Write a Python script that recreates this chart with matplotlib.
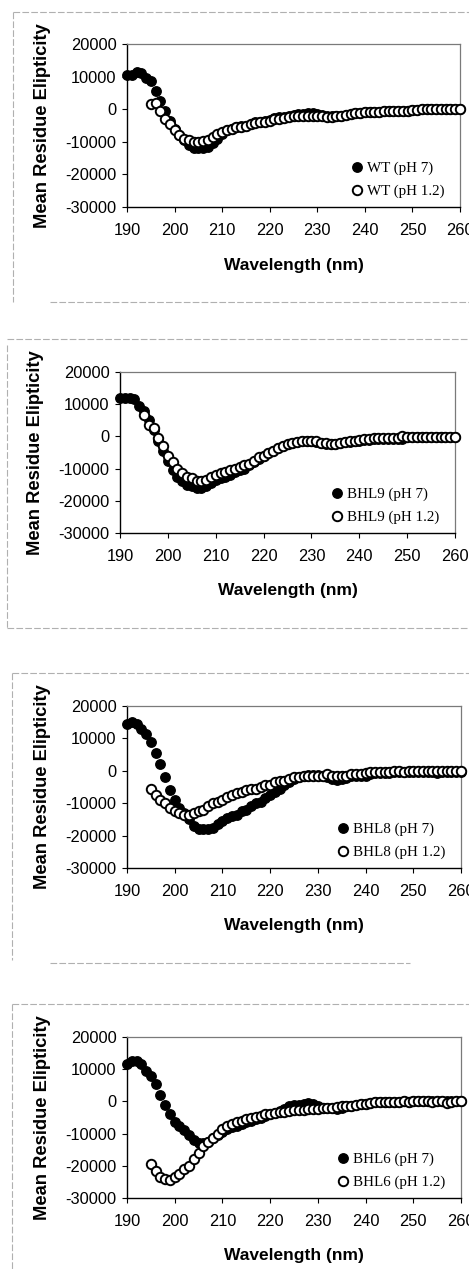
import numpy as np
import matplotlib
matplotlib.use("Agg")
import matplotlib.pyplot as plt
from matplotlib.lines import Line2D

# wavelength grids (nm); the pH 1.2 scans start at 195 nm
wl_ph7 = np.arange(190, 261)
wl_ph12 = np.arange(195, 261)

wt_ph7 = [10500, 10500, 11500, 11000, 9500, 8500, 5500, 2500, -500, -3500,
          -6000, -8000, -9500, -11000, -11800, -12000, -12000, -11500, -10500, -9000,
          -7500, -6500, -6000, -5500, -5200, -5000, -4500, -4000, -3800, -3500,
          -3200, -2800, -2500, -2300, -2000, -1800, -1600, -1500, -1200, -1200,
          -1500, -1800, -2000, -2000, -2000, -2000, -1800, -1500, -1300, -1300,
          -1000, -1000, -900, -800, -500, -500, -500, -500, -500, -400,
          -200, -100, 0, 0, 0, 0, 0, 0, 0, 0, 0]
wt_ph12 = [1500, 2000, -500, -3000, -4500,
           -6500, -8000, -9000, -9500, -10000, -10000, -9700, -9500, -8500, -7500,
           -7000, -6500, -6000, -5500, -5500, -5000, -4500, -4200, -4000, -3800,
           -3500, -3000, -3000, -2700, -2500, -2200, -2200, -2000, -2000, -2000,
           -2200, -2200, -2300, -2300, -2000, -2000, -1800, -1500, -1300, -1300,
           -1000, -1000, -900, -800, -500, -500, -500, -500, -500, -400,
           -200, -100, 0, 0, 0, 0, 0, 0, 0, 0, 0]

bhl9_ph7 = [12000, 12000, 12000, 11500, 9500, 8000, 5000, 2000, -1500, -4500,
            -7500, -10500, -12500, -14000, -15000, -15500, -16000, -16000, -15500, -14500,
            -13500, -13000, -12500, -12000, -11000, -10500, -10000, -9000, -8000, -7000,
            -6000, -5000, -4500, -3500, -3000, -2500, -2000, -1800, -1500, -1500,
            -1500, -1800, -2200, -2500, -2500, -2500, -2200, -1800, -1700, -1500,
            -1300, -1000, -1000, -700, -700, -800, -700, -700, -700, -900,
            -300, -300, -300, -300, -300, -300, -300, -300, -300, -300, -300]
bhl9_ph12 = [6500, 3500, 2500, -500, -3000,
             -6000, -8000, -10000, -11500, -12500, -13000, -14000, -14000, -13500, -12500,
             -12000, -11500, -11000, -10500, -10000, -9500, -9000, -8500, -7500, -6500,
             -6000, -5000, -4500, -3500, -3000, -2500, -2000, -1800, -1500, -1300,
             -1300, -1500, -2000, -2200, -2300, -2300, -2000, -1600, -1500, -1300,
             -1000, -800, -800, -500, -500, -500, -500, -500, -400, 0,
             -300, -200, -200, -200, -200, -200, -200, -200, -200, -200, -200]

bhl8_ph7 = [14500, 15000, 14500, 13000, 11500, 9000, 5500, 2000, -2000, -6000,
            -9000, -11500, -13000, -15000, -17000, -18000, -18000, -18000, -17500, -16500,
            -15500, -14500, -14000, -13500, -12500, -12000, -11000, -10000, -9500, -8500,
            -7500, -6500, -5500, -4500, -3500, -2500, -2000, -1500, -1200, -1200,
            -1300, -1500, -2000, -2500, -2800, -2500, -2200, -1500, -1700, -1500,
            -1500, -1000, -800, -800, -700, -800, -500, -400, -300, -300,
            -300, -300, -300, -300, -300, -600, -300, -300, -300, -300, -300]
bhl8_ph12 = [-5500, -7500, -9000, -10000, -11500,
             -12500, -13000, -13500, -13500, -13000, -12500, -12000, -11000, -10000, -9500,
             -9000, -8000, -7500, -7000, -6500, -6000, -5500, -5500, -5000, -4500,
             -4500, -3500, -3000, -3000, -2500, -2000, -2000, -1500, -1500, -1500,
             -1500, -1500, -1000, -1500, -1500, -1500, -1500, -1000, -1000, -1000,
             -700, -500, -500, -500, -500, -500, 0, -200, -300, 0,
             0, 0, 0, 0, 0, 0, 0, 0, 0, 0, 0]

bhl6_ph7 = [11500, 12500, 12500, 11500, 9500, 8000, 5500, 2000, -1000, -4000,
            -6500, -7500, -9000, -10500, -12000, -13000, -13000, -12500, -11500, -10500,
            -9500, -8500, -8000, -7500, -7000, -6500, -6000, -5500, -5000, -4500,
            -4000, -3500, -3000, -2500, -1500, -1000, -1000, -800, -500, -800,
            -1500, -2000, -2200, -2200, -2500, -2000, -1500, -1500, -1000, -800,
            -700, -500, -300, -300, -300, -300, -300, -200, 0, -200,
            0, 0, 0, 0, 0, 0, 0, 0, 0, 0, 0]
bhl6_ph12 = [-19500, -21500, -23500, -24000, -24500,
             -23500, -22500, -21000, -20000, -18000, -16000, -14000, -12500, -11500, -10000,
             -8500, -7500, -7000, -6500, -6000, -5500, -5000, -4800, -4500, -4000,
             -3800, -3500, -3300, -3200, -3000, -2800, -2700, -2700, -2500, -2500,
             -2300, -2200, -2000, -2000, -1800, -1500, -1500, -1500, -1000, -800,
             -700, -500, -300, -300, -300, -300, -300, -200, 0, -200,
             0, 0, 0, 0, -300, 0, 0, -500, -200, 0, 0]

names = ["WT", "BHL9", "BHL8", "BHL6"]
series_ph7 = [wt_ph7, bhl9_ph7, bhl8_ph7, bhl6_ph7]
series_ph12 = [wt_ph12, bhl9_ph12, bhl8_ph12, bhl6_ph12]

x_ticks = [190, 200, 210, 220, 230, 240, 250, 260]
y_ticks = [-30000, -20000, -10000, 0, 10000, 20000]

W, H = 469, 1288
fig = plt.figure(figsize=(W / 100, H / 100), dpi=100)

# axes boxes in pixels: left, right, top, bottom
boxes = [(127, 460, 44, 207), (120, 455, 372, 533),
         (127, 461, 706, 868), (127, 461, 1037, 1198)]

# faint scanned frame lines around each panel (pixels)
frames = [[(13, 469, 12, 12), (13, 13, 12, 302), (50, 469, 302, 302)],
          [(7, 469, 339, 339), (7, 7, 345, 628), (7, 469, 628, 628)],
          [(12, 469, 673, 673), (12, 12, 673, 960), (50, 410, 963, 963)],
          [(12, 469, 1004, 1004), (12, 12, 1004, 1270)]]
for fr in frames:
    for x0, x1, y0, y1 in fr:
        fig.add_artist(Line2D([x0 / W, x1 / W], [1 - y0 / H, 1 - y1 / H],
                              color="#b0b0b0", lw=0.8, ls=(0, (6, 2))))

for i, name in enumerate(names):
    l, r, t, b = boxes[i]
    ax = fig.add_axes([l / W, 1 - b / H, (r - l) / W, (b - t) / H])

    ax.plot(wl_ph7, series_ph7[i], "o", ms=6.8, color="black",
            label=f"{name} (pH 7)", clip_on=False, zorder=3)
    ax.plot(wl_ph12, series_ph12[i], "o", ms=6.8, mfc="white", mec="black",
            mew=1.4, label=f"{name} (pH 1.2)", clip_on=False, zorder=4)

    ax.set_xlim(190, 260)
    ax.set_ylim(-30000, 20000)
    ax.set_xticks(x_ticks)
    ax.set_yticks(y_ticks)
    ax.set_xticklabels([str(v) for v in x_ticks])
    ax.set_yticklabels([str(v) for v in y_ticks])
    ax.tick_params(direction="out", length=3.5, width=0.8, labelsize=11.8,
                   pad=4, colors="black")
    ax.tick_params(axis="x", pad=8)
    for lab in ax.get_xticklabels() + ax.get_yticklabels():
        lab.set_fontfamily("Liberation Sans")

    for side in ["left", "bottom"]:
        ax.spines[side].set_color("black")
        ax.spines[side].set_linewidth(1.0)
    for side in ["top", "right"]:
        ax.spines[side].set_color("#7a7a7a")
        ax.spines[side].set_linewidth(0.9)

    ax.set_ylabel("Mean Residue Elipticity", fontsize=13.2, fontweight="bold",
                  family="Liberation Sans")
    ax.yaxis.set_label_coords(-0.228, 0.5)
    ax.set_xlabel("Wavelength (nm)", fontsize=12.5, fontweight="bold",
                  family="Liberation Sans")
    ax.xaxis.set_label_coords(0.5, -0.31)

    ax.legend(loc="lower right", bbox_to_anchor=(0.985, -0.01), frameon=False,
              prop={"family": "Liberation Serif", "size": 10.8},
              handlelength=0.6, handletextpad=0.35, labelspacing=0.6,
              borderpad=0.2, markerscale=1.0)

fig.savefig("out.png", dpi=100)
